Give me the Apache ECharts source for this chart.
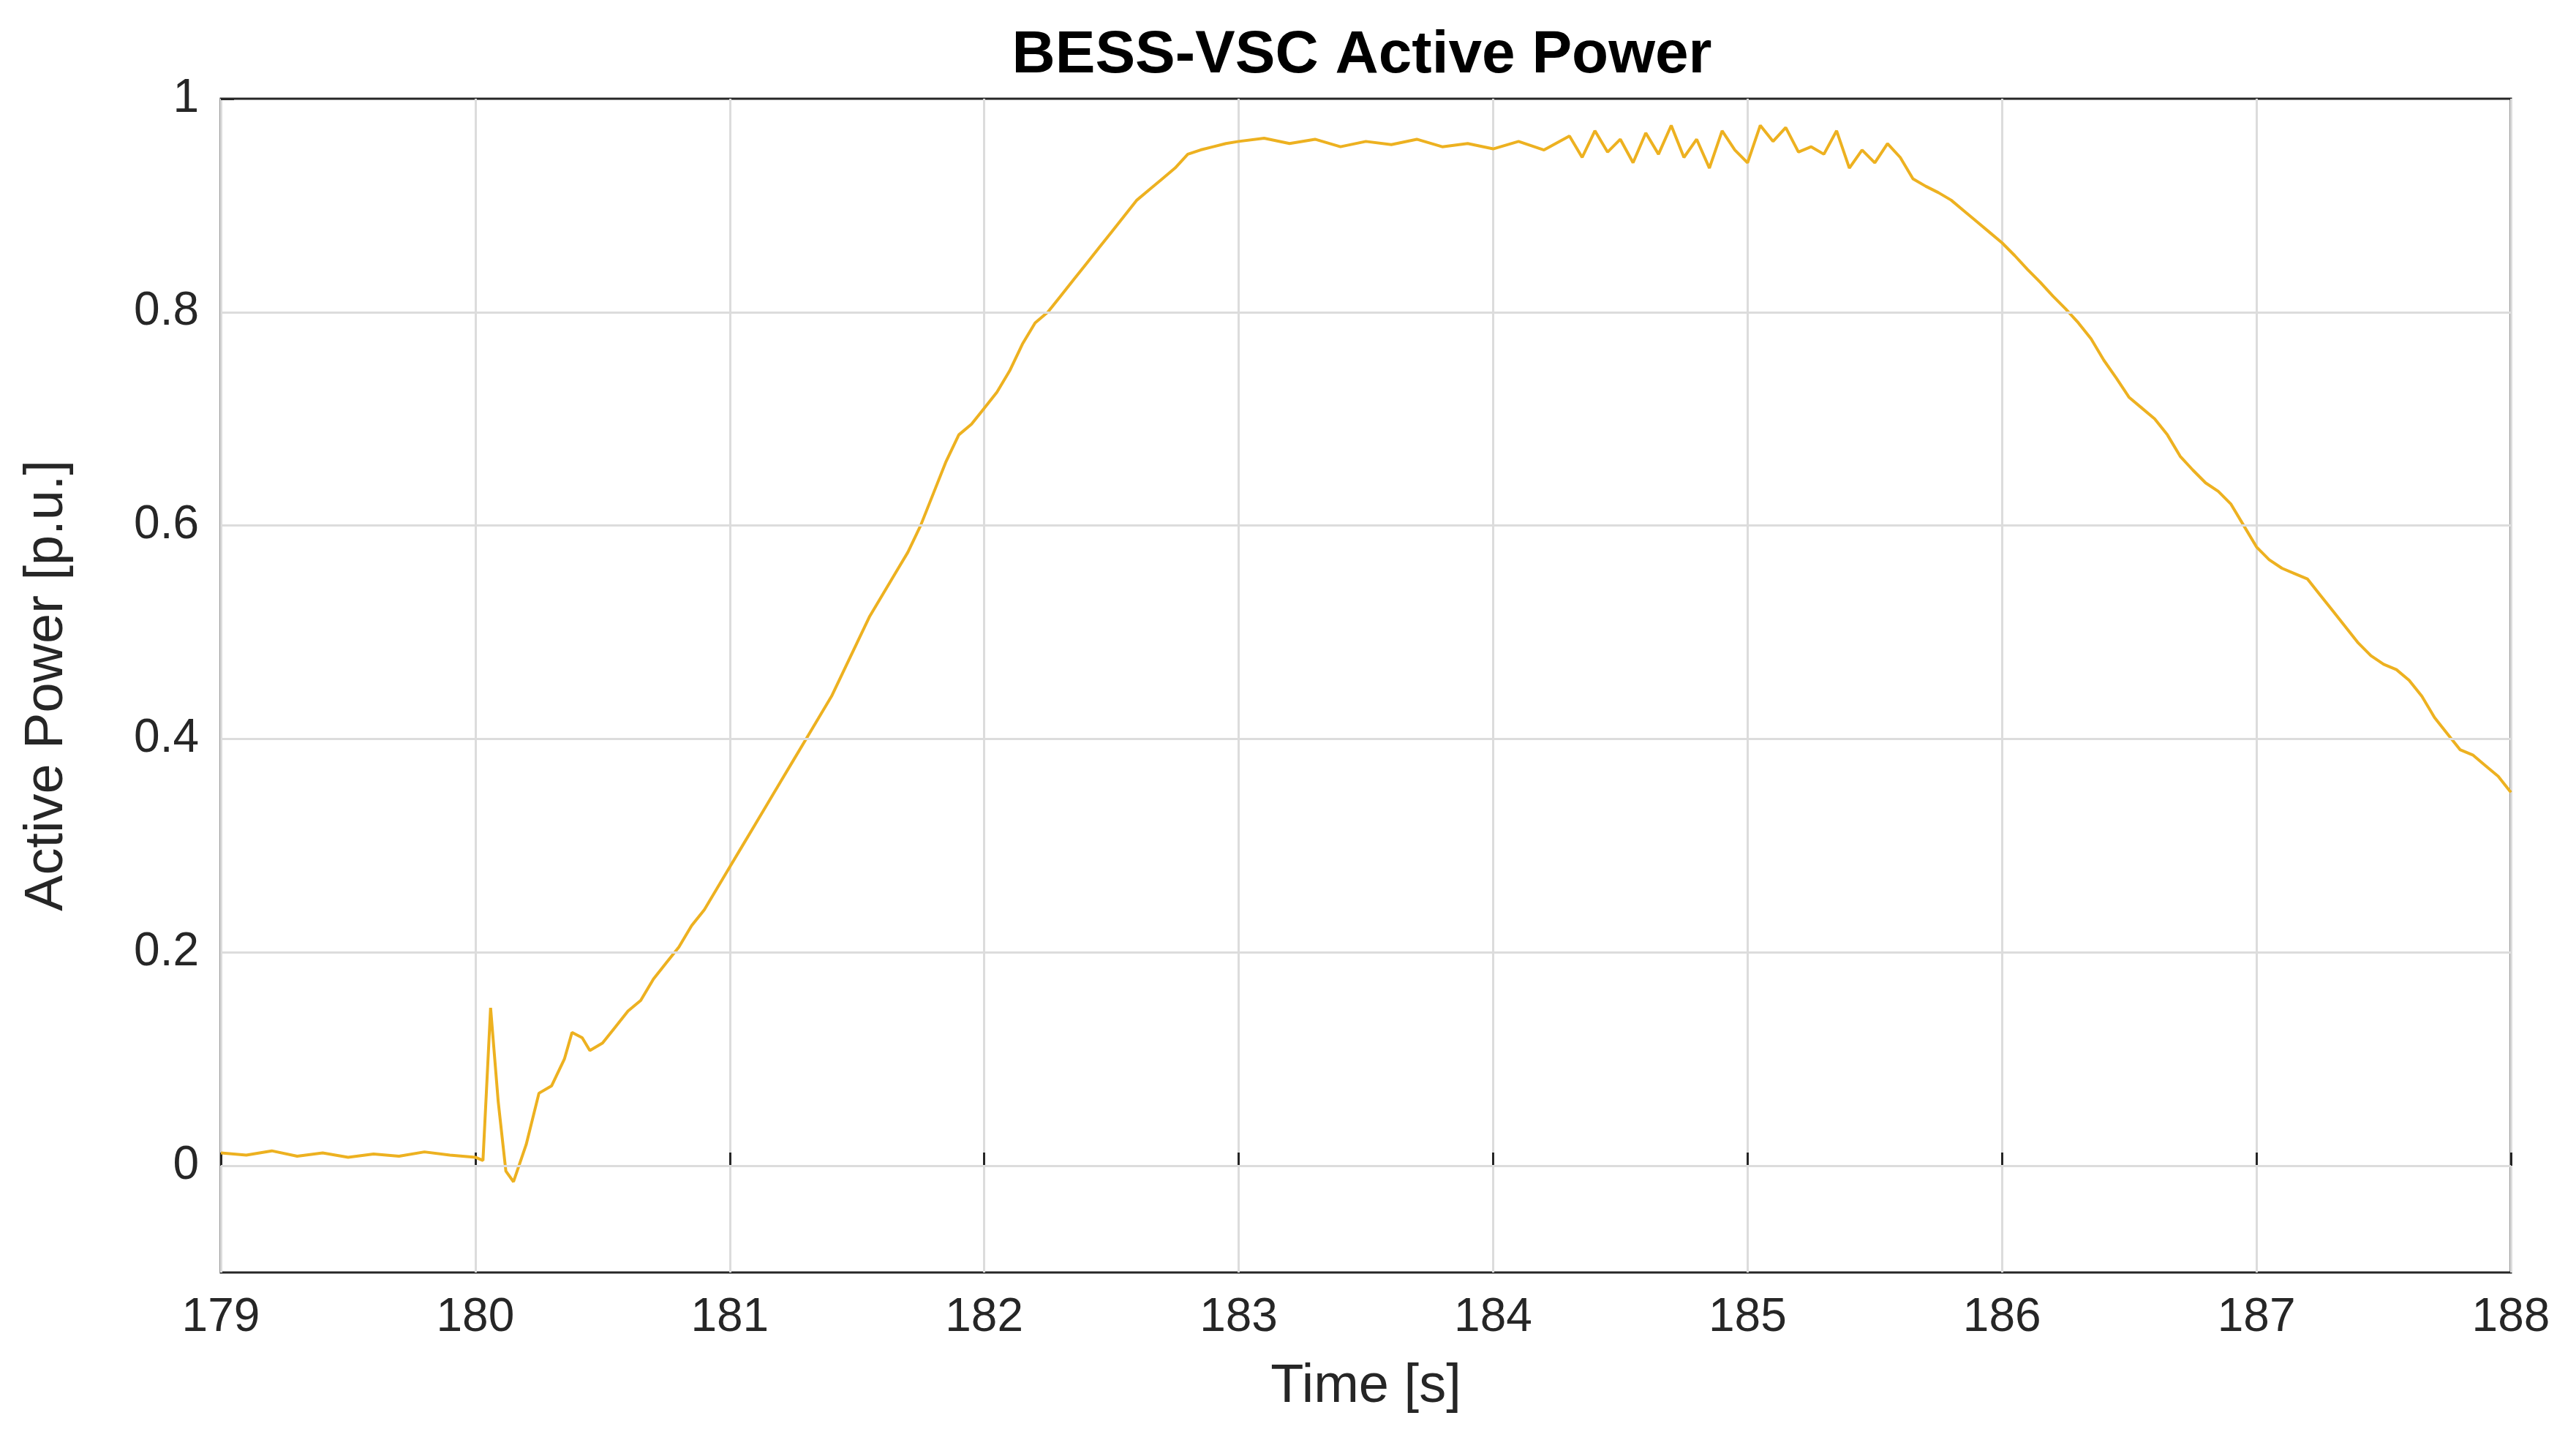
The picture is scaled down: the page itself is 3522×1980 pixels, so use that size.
<!DOCTYPE html>
<html><head><meta charset="utf-8">
<script src="https://cdn.jsdelivr.net/npm/echarts@6/dist/echarts.min.js"></script>
<style>html,body{margin:0;background:#fff}#c{width:3522px;height:1980px}</style>
</head><body><div id="c"></div>
<script>
const times = [179,179.1,179.2,179.3,179.4,179.5,179.6,179.7,179.8,179.9,180,180.03,180.06,180.09,180.12,180.15,180.2,180.25,180.3,180.35,180.38,180.42,180.45,180.5,180.55,180.6,180.65,180.7,180.75,180.8,180.85,180.9,180.95,181,181.05,181.1,181.15,181.2,181.25,181.3,181.35,181.4,181.45,181.5,181.55,181.6,181.65,181.7,181.75,181.8,181.85,181.9,181.95,182,182.05,182.1,182.15,182.2,182.25,182.3,182.35,182.4,182.45,182.5,182.55,182.6,182.65,182.7,182.75,182.8,182.85,182.9,182.95,183,183.1,183.2,183.3,183.4,183.5,183.6,183.7,183.8,183.9,184,184.1,184.2,184.3,184.35,184.4,184.45,184.5,184.55,184.6,184.65,184.7,184.75,184.8,184.85,184.9,184.95,185,185.05,185.1,185.15,185.2,185.25,185.3,185.35,185.4,185.45,185.5,185.55,185.6,185.65,185.7,185.75,185.8,185.85,185.9,185.95,186,186.05,186.1,186.15,186.2,186.25,186.3,186.35,186.4,186.45,186.5,186.55,186.6,186.65,186.7,186.75,186.8,186.85,186.9,186.95,187,187.05,187.1,187.15,187.2,187.25,187.3,187.35,187.4,187.45,187.5,187.55,187.6,187.65,187.7,187.75,187.8,187.85,187.9,187.95,188];
const power = [0.012,0.01,0.014,0.009,0.012,0.008,0.011,0.009,0.013,0.01,0.008,0.005,0.148,0.06,-0.005,-0.015,0.02,0.068,0.075,0.1,0.125,0.12,0.108,0.115,0.13,0.145,0.155,0.175,0.19,0.205,0.225,0.24,0.26,0.28,0.3,0.32,0.34,0.36,0.38,0.4,0.42,0.44,0.465,0.49,0.515,0.535,0.555,0.575,0.6,0.63,0.66,0.685,0.695,0.71,0.725,0.745,0.77,0.79,0.8,0.815,0.83,0.845,0.86,0.875,0.89,0.905,0.915,0.925,0.935,0.948,0.952,0.955,0.958,0.96,0.963,0.958,0.962,0.955,0.96,0.957,0.962,0.955,0.958,0.953,0.96,0.952,0.965,0.945,0.97,0.95,0.962,0.94,0.968,0.948,0.975,0.945,0.962,0.935,0.97,0.952,0.94,0.975,0.96,0.973,0.95,0.955,0.948,0.97,0.935,0.952,0.94,0.958,0.945,0.925,0.918,0.912,0.905,0.895,0.885,0.875,0.865,0.853,0.84,0.828,0.815,0.803,0.79,0.775,0.755,0.738,0.72,0.71,0.7,0.685,0.665,0.652,0.64,0.632,0.62,0.6,0.58,0.568,0.56,0.555,0.55,0.535,0.52,0.505,0.49,0.478,0.47,0.465,0.455,0.44,0.42,0.405,0.39,0.385,0.375,0.365,0.35];
const yTicks = [0,0.2,0.4,0.6,0.8,1];
const data = times.map((t,i)=>[t,power[i]]);
const chart = echarts.init(document.getElementById('c'));
const ff = 'Liberation Sans, Arial, sans-serif';
chart.setOption({
  animation:false,
  backgroundColor:'#fff',
  title:{text:'BESS-VSC Active Power',left:1857,top:30,textAlign:'center',textStyle:{fontFamily:ff,fontSize:82,fontWeight:'bold',color:'#000'}},
  grid:{left:302,right:89,top:135,bottom:240,show:true,borderColor:'#262626',borderWidth:3},
  xAxis:{type:'value',min:179,max:188,interval:1,name:'Time [s]',nameLocation:'middle',nameGap:120,
    nameTextStyle:{fontFamily:ff,fontSize:74,color:'#262626'},
    axisLine:{show:false},axisTick:{inside:true,length:18,lineStyle:{color:'#262626',width:3}},
    axisLabel:{fontFamily:ff,fontSize:64,color:'#262626',margin:30},
    splitLine:{lineStyle:{color:'#dcdcdc',width:3}}},
  yAxis:{type:'value',min:-0.1,max:1,name:'Active Power [p.u.]',nameLocation:'middle',nameGap:200,
    nameTextStyle:{fontFamily:ff,fontSize:74,color:'#262626'},
    axisLine:{show:false},
    axisTick:{inside:true,length:18,customValues:yTicks,lineStyle:{color:'#262626',width:3}},
    axisLabel:{fontFamily:ff,fontSize:64,color:'#262626',margin:30,customValues:yTicks,formatter:v=>String(+v.toFixed(1))},
    splitLine:{show:false}},
  series:[{type:'line',data:data,showSymbol:false,lineStyle:{color:'#EDB120',width:4},
    markLine:{silent:true,symbol:'none',label:{show:false},lineStyle:{color:'#dcdcdc',width:3,type:'solid'},
      data:yTicks.slice(0,5).map(v=>({yAxis:v}))},z:3}]
});
</script></body></html>
